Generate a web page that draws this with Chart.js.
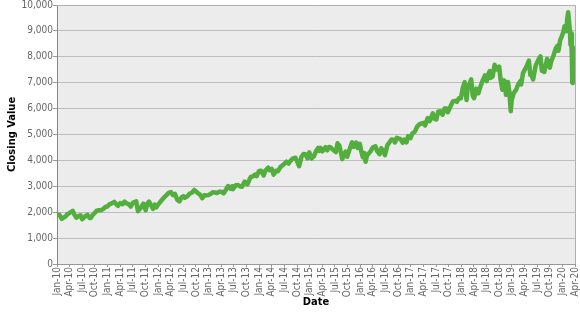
<!DOCTYPE html>
<html>
<head>
<meta charset="utf-8">
<script src="https://cdn.jsdelivr.net/npm/chart.js@4.4.1/dist/chart.umd.min.js"></script>
<style>
  html, body { margin: 0; padding: 0; background: #ffffff; }
  #wrap { width: 580px; height: 312px; }
</style>
</head>
<body>
<div id="wrap"><canvas id="c" width="580" height="312"></canvas></div>
<script>
// ---- Data (NASDAQ-100 style closing values) ----
const dates = [
  "2010-01-04","2010-01-19","2010-02-05","2010-02-16","2010-03-01","2010-03-15","2010-04-01","2010-04-23","2010-05-06","2010-05-20",
  "2010-06-01","2010-06-18","2010-07-01","2010-07-16","2010-08-02","2010-08-09","2010-08-24","2010-09-01","2010-09-15","2010-10-01",
  "2010-10-15","2010-11-01","2010-11-16","2010-12-01","2010-12-15","2010-12-31",
  "2011-01-14","2011-02-01","2011-02-18","2011-03-01","2011-03-16","2011-04-01","2011-04-18","2011-05-02","2011-05-16","2011-06-01",
  "2011-06-16","2011-07-01","2011-07-26","2011-08-08","2011-08-19","2011-09-01","2011-09-16","2011-10-03","2011-10-14","2011-10-27",
  "2011-11-09","2011-11-25","2011-12-07","2011-12-19","2011-12-30",
  "2012-01-13","2012-02-01","2012-02-15","2012-03-01","2012-03-15","2012-04-02","2012-04-16","2012-05-01","2012-05-18","2012-06-04",
  "2012-06-19","2012-07-02","2012-07-12","2012-08-01","2012-08-15","2012-09-04","2012-09-19","2012-10-01","2012-10-15","2012-11-01",
  "2012-11-15","2012-12-03","2012-12-17","2012-12-31",
  "2013-01-15","2013-02-01","2013-02-15","2013-03-01","2013-03-15","2013-04-01","2013-04-18","2013-05-01","2013-05-21","2013-06-06",
  "2013-06-18","2013-06-24","2013-07-15","2013-08-01","2013-08-15","2013-08-30","2013-09-18","2013-10-08","2013-10-22","2013-11-01",
  "2013-11-15","2013-12-02","2013-12-13","2013-12-31",
  "2014-01-15","2014-02-03","2014-02-14","2014-03-06","2014-03-14","2014-04-01","2014-04-14","2014-05-01","2014-05-15","2014-06-02",
  "2014-06-16","2014-07-01","2014-07-16","2014-08-01","2014-08-15","2014-09-02","2014-09-19","2014-10-01","2014-10-16","2014-11-03",
  "2014-11-17","2014-12-01","2014-12-16","2014-12-29",
  "2015-01-15","2015-02-02","2015-02-17","2015-03-02","2015-03-10","2015-03-20","2015-04-01","2015-04-24","2015-05-06","2015-05-20",
  "2015-06-01","2015-06-15","2015-07-08","2015-07-20","2015-08-03","2015-08-24","2015-09-02","2015-09-17","2015-09-28","2015-10-15",
  "2015-11-03","2015-11-13","2015-12-01","2015-12-14","2015-12-29",
  "2016-01-08","2016-01-20","2016-02-01","2016-02-09","2016-02-18","2016-03-01","2016-03-15","2016-04-01","2016-04-19","2016-05-02",
  "2016-05-19","2016-06-01","2016-06-14","2016-06-27","2016-07-15","2016-08-01","2016-08-15","2016-09-01","2016-09-09","2016-09-22",
  "2016-10-03","2016-10-17","2016-11-04","2016-11-16","2016-12-01","2016-12-13","2016-12-30",
  "2017-01-13","2017-02-01","2017-02-15","2017-03-01","2017-03-15","2017-04-03","2017-04-13","2017-05-01","2017-05-17","2017-06-08",
  "2017-06-12","2017-07-03","2017-07-17","2017-08-01","2017-08-18","2017-09-01","2017-09-15","2017-09-25","2017-10-16","2017-11-01",
  "2017-11-15","2017-11-29","2017-12-15","2017-12-29",
  "2018-01-12","2018-01-26","2018-02-08","2018-02-15","2018-02-26","2018-03-12","2018-03-23","2018-04-02","2018-04-18","2018-05-03",
  "2018-05-15","2018-06-01","2018-06-20","2018-07-02","2018-07-13","2018-07-25","2018-07-30","2018-08-15","2018-08-29","2018-09-14",
  "2018-10-01","2018-10-11","2018-10-24","2018-11-07","2018-11-20","2018-12-03","2018-12-13","2018-12-24","2018-12-31",
  "2019-01-15","2019-02-01","2019-02-15","2019-03-01","2019-03-08","2019-03-21","2019-04-01","2019-04-15","2019-05-03","2019-05-13",
  "2019-05-23","2019-06-03","2019-06-20","2019-07-01","2019-07-15","2019-07-26","2019-08-05","2019-08-14","2019-08-22","2019-08-23",
  "2019-09-12","2019-09-20","2019-10-02","2019-10-11","2019-10-28","2019-11-15","2019-11-26","2019-12-03","2019-12-16","2019-12-27",
  "2020-01-10","2020-01-17","2020-01-31","2020-02-05","2020-02-12","2020-02-24","2020-02-28","2020-03-04","2020-03-09","2020-03-12",
  "2020-03-16","2020-03-20","2020-03-26","2020-04-01"
];
const closes = [
  1886,1900,1745,1790,1830,1920,1970,2050,1900,1790,
  1840,1880,1730,1810,1880,1895,1780,1780,1890,1980,
  2060,2080,2080,2130,2200,2220,
  2300,2340,2400,2320,2240,2350,2310,2410,2340,2310,
  2220,2360,2420,2040,2110,2200,2330,2080,2320,2410,
  2290,2130,2290,2190,2280,
  2370,2490,2580,2660,2740,2780,2660,2710,2480,2420,
  2580,2620,2560,2620,2710,2760,2860,2810,2730,2680,
  2540,2660,2650,2660,
  2700,2770,2760,2740,2790,2790,2730,2840,3010,2910,
  3000,2890,3040,3050,3000,2980,3180,3070,3250,3360,
  3380,3450,3390,3590,
  3600,3420,3600,3720,3620,3670,3450,3600,3580,3740,
  3800,3870,3950,3880,3980,4080,4100,3970,3780,4140,
  4250,4240,4080,4310,
  4080,4170,4380,4480,4370,4480,4350,4510,4390,4520,
  4500,4420,4320,4660,4570,4050,4200,4340,4140,4420,
  4700,4520,4690,4480,4640,
  4370,4120,4280,3950,4180,4260,4350,4500,4540,4360,
  4240,4470,4370,4200,4590,4710,4810,4790,4690,4870,
  4850,4830,4680,4800,4700,4940,4860,
  5040,5120,5300,5390,5420,5450,5350,5630,5520,5820,
  5630,5580,5880,5900,5760,6000,6000,5860,6100,6280,
  6300,6260,6400,6400,
  6800,7020,6330,6760,6930,7130,6500,6400,6770,6590,
  6800,7060,7280,7060,7320,7450,7180,7240,7690,7510,
  7620,7120,6730,7090,6530,7030,6680,5900,6330,
  6600,6720,6930,7060,6930,7370,7480,7620,7850,7300,
  7280,7130,7650,7780,7930,8020,7460,7500,7650,7410,
  7920,7810,7580,7810,8040,8340,8420,8230,8640,8780,
  8990,9180,8990,9450,9720,9000,8460,8900,7950,7000,
  6990,7100,7800,8330
];
const monthNames = ["Jan","Feb","Mar","Apr","May","Jun","Jul","Aug","Sep","Oct","Nov","Dec"];
const startYear = 2010;
const axisMonths = 123;           // Jan-10 .. Apr-20
const tickStepMonths = 3;         // quarterly tick labels
const yMax = 10000, yStep = 500;

// month offset from the start of 2010, from the date string
function monthOffset(s) {
  const [y, m, d] = s.split("-").map(Number);
  const dim = new Date(y, m, 0).getDate();
  return (y - startYear) * 12 + (m - 1) + (d - 1) / dim;
}
const points = dates.map((d, i) => ({ x: monthOffset(d), y: closes[i] }));

const FONT = "'DejaVu Sans Condensed', 'DejaVu Sans', Verdana, sans-serif";

const plotBg = {
  id: 'plotBg',
  beforeDraw(chart) {
    const { ctx, chartArea: a } = chart;
    ctx.save();
    ctx.fillStyle = '#ececec';
    ctx.fillRect(a.left, a.top, a.right - a.left, a.bottom - a.top);
    ctx.restore();
  },
  afterDraw(chart) {
    const { ctx, chartArea: a } = chart;
    ctx.save();
    ctx.strokeStyle = '#b0b0b0';
    ctx.lineWidth = 1;
    ctx.beginPath();
    ctx.moveTo(a.left, a.top + 0.5);
    ctx.lineTo(a.right + 0.5, a.top + 0.5);
    ctx.lineTo(a.right + 0.5, a.bottom);
    ctx.stroke();
    ctx.restore();
  }
};

new Chart(document.getElementById('c'), {
  type: 'line',
  data: {
    datasets: [{
      data: points,
      borderColor: '#52ae3d',
      borderWidth: 4.5,
      pointRadius: 0,
      tension: 0,
      borderJoinStyle: 'round',
      borderCapStyle: 'round',
      fill: false
    }]
  },
  options: {
    responsive: false,
    devicePixelRatio: 1,
    animation: false,
    layout: { padding: { left: 0, right: 5, top: 5, bottom: 0 } },
    plugins: { legend: { display: false }, tooltip: { enabled: false } },
    scales: {
      x: {
        type: 'linear',
        min: 0,
        max: axisMonths,
        afterFit(s) { s.height = 48; s.paddingLeft = 0; s.paddingRight = 0; },
        ticks: {
          stepSize: tickStepMonths,
          autoSkip: false,
          maxRotation: 90,
          minRotation: 90,
          padding: 0,
          color: '#666666',
          font: { family: FONT, size: 10 },
          callback(v) {
            const m = Math.round(v);
            const yy = (startYear + Math.floor(m / 12)) % 100;
            return monthNames[m % 12] + '-' + String(yy).padStart(2, '0');
          }
        },
        grid: { drawOnChartArea: false, drawTicks: true, tickLength: 3, color: '#999999' },
        border: { display: true, color: '#999999' },
        title: {
          display: true,
          text: 'Date',
          color: '#000000',
          font: { family: FONT, size: 11, weight: 'bold' },
          padding: { top: 0, bottom: 3 }
        }
      },
      y: {
        min: 0,
        max: yMax,
        afterFit(s) { s.width = 57; s.paddingTop = 0; s.paddingBottom = 0; },
        ticks: {
          stepSize: yStep,
          padding: 0,
          color: '#666666',
          font: { family: FONT, size: 10 },
          callback(v) { return v.toLocaleString('en-US'); }
        },
        grid: { color: '#bdbdbd', tickLength: 4, tickColor: '#999999' },
        border: { display: true, color: '#888888' },
        title: {
          display: true,
          text: 'Closing Value',
          color: '#000000',
          font: { family: FONT, size: 11, weight: 'bold' },
          padding: { top: 6, bottom: 0 }
        }
      }
    }
  },
  plugins: [plotBg]
});
</script>
</body>
</html>
